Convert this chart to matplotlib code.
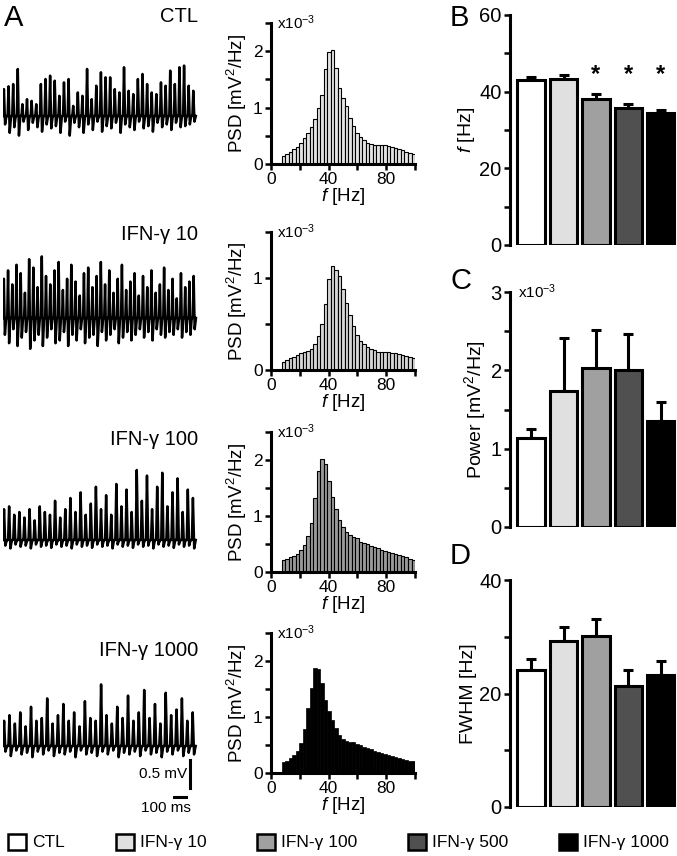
import numpy as np
import matplotlib
matplotlib.use("Agg")
import matplotlib.pyplot as plt
from matplotlib.patches import Patch

plt.rcParams["font.family"] = ["Liberation Sans", "DejaVu Sans"]
plt.rcParams["mathtext.fontset"] = "custom"
plt.rcParams["mathtext.rm"] = "Liberation Sans"
plt.rcParams["mathtext.it"] = "Liberation Sans:italic"

# ---- data -------------------------------------------------------------
GROUPS = ["CTL", "IFN-γ 10", "IFN-γ 100", "IFN-γ 500", "IFN-γ 1000"]
GROUP_COLORS = ["#ffffff", "#e0e0e0", "#a0a0a0", "#505050", "#000000"]

# field potential traces (mV): one peak and one trough per cycle
TRACE_NAMES = ["CTL", "IFN-γ 10", "IFN-γ 100", "IFN-γ 1000"]
CTL_PEAKS = [0.48, 0.53, 0.57, 0.84, 0.21, 0.30, 0.27, 0.21, 0.57, 0.66, 0.72, 0.63, 0.36, 0.60,
             0.66, 0.18, 0.42, 0.36, 0.84, 0.30, 0.54, 0.78, 0.69, 0.69, 0.48, 0.42, 0.87, 0.45,
             0.39, 0.66, 0.75, 0.57, 0.42, 0.39, 0.60, 0.54, 0.81, 0.57, 0.87, 0.90, 0.54, 0.45]
CTL_TROUGHS = [-0.15, -0.30, -0.20, -0.35, -0.10, -0.25, -0.12, -0.20, -0.28, -0.15, -0.22, -0.18,
               -0.30, -0.10, -0.35, -0.12, -0.20, -0.30, -0.15, -0.25, -0.10, -0.28, -0.18, -0.22,
               -0.12, -0.30, -0.15, -0.20, -0.25, -0.10, -0.22, -0.18, -0.28, -0.12, -0.20, -0.15,
               -0.25, -0.12, -0.20, -0.18, -0.15, -0.10]
IFN10_PEAKS = [0.70, 0.85, 0.60, 0.95, 0.80, 0.45, 1.05, 0.90, 0.55, 1.10, 0.75, 0.60, 0.85, 1.00,
               0.50, 0.70, 0.95, 0.65, 0.40, 0.80, 0.90, 0.55, 0.75, 1.00, 0.60, 0.85, 0.45, 0.70,
               0.95, 0.50, 0.65, 0.80, 0.40, 0.75, 0.55, 0.85, 0.45, 0.60, 0.90, 0.50, 0.70, 0.35,
               0.80, 0.55, 0.65, 0.75]
IFN10_TROUGHS = [-0.30, -0.45, -0.20, -0.50, -0.35, -0.25, -0.55, -0.40, -0.30, -0.50, -0.35, -0.20,
                 -0.45, -0.40, -0.25, -0.50, -0.30, -0.40, -0.20, -0.45, -0.35, -0.30, -0.50, -0.25,
                 -0.40, -0.30, -0.20, -0.45, -0.35, -0.25, -0.40, -0.30, -0.20, -0.35, -0.25, -0.40,
                 -0.20, -0.30, -0.35, -0.25, -0.30, -0.20, -0.35, -0.25, -0.30, -0.20]
IFN100_PEAKS = [0.55, 0.60, 0.45, 0.50, 0.40, 0.55, 0.35, 0.60, 0.50, 0.45, 0.70, 0.40, 0.55, 0.75,
                0.50, 0.85, 0.45, 0.65, 0.95, 0.55, 0.80, 0.45, 1.00, 0.60, 0.90, 0.50, 1.25, 0.70,
                1.15, 0.55, 0.95, 1.20, 0.60, 0.85, 1.10, 0.50, 0.90, 0.75]
IFN100_TROUGHS = [-0.10, -0.15, -0.08, -0.12, -0.10, -0.15, -0.08, -0.12, -0.10, -0.14, -0.08, -0.12,
                  -0.10, -0.15, -0.08, -0.12, -0.10, -0.14, -0.08, -0.12, -0.10, -0.15, -0.08, -0.12,
                  -0.10, -0.14, -0.08, -0.12, -0.10, -0.15, -0.08, -0.12, -0.10, -0.14, -0.08, -0.12,
                  -0.10, -0.15]
IFN1000_PEAKS = [0.45, 0.55, 0.40, 0.60, 0.35, 0.70, 0.45, 0.50, 0.85, 0.40, 0.55, 0.75, 0.45, 0.60,
                 0.35, 0.80, 0.50, 0.45, 1.10, 0.55, 0.40, 0.70, 0.50, 0.90, 0.45, 0.60, 1.00, 0.50,
                 0.75, 0.40, 0.95, 0.55, 0.65, 0.85, 0.45, 0.60]
IFN1000_TROUGHS = [-0.10, -0.18, -0.08, -0.15, -0.12, -0.20, -0.10, -0.15, -0.08, -0.18, -0.12, -0.15,
                   -0.10, -0.20, -0.08, -0.15, -0.12, -0.18, -0.10, -0.15, -0.08, -0.20, -0.12, -0.15,
                   -0.10, -0.18, -0.08, -0.15, -0.12, -0.20, -0.10, -0.15, -0.08, -0.18, -0.12, -0.15]

# power spectra (x10^-3 mV^2/Hz), bins of 2.44 Hz from 7.3 Hz
PSD_F0 = 7.3
PSD_BIN = 2.44
PSD_CTL = [0.15, 0.18, 0.21, 0.26, 0.30, 0.37, 0.46, 0.55, 0.65, 0.80, 0.99, 1.23, 1.68, 1.98,
           2.02, 1.71, 1.35, 1.17, 1.02, 0.82, 0.67, 0.55, 0.48, 0.42, 0.38, 0.36, 0.34, 0.33,
           0.33, 0.33, 0.32, 0.30, 0.28, 0.26, 0.24, 0.22, 0.20, 0.18]
PSD_IFN10 = [0.09, 0.11, 0.125, 0.14, 0.16, 0.19, 0.20, 0.21, 0.23, 0.28, 0.37, 0.50, 0.72, 0.99,
             1.13, 1.09, 1.02, 0.88, 0.73, 0.60, 0.48, 0.38, 0.32, 0.28, 0.25, 0.23, 0.22, 0.20,
             0.20, 0.20, 0.20, 0.19, 0.18, 0.17, 0.16, 0.15, 0.14, 0.13]
PSD_IFN100 = [0.21, 0.24, 0.26, 0.29, 0.33, 0.39, 0.48, 0.64, 0.87, 1.33, 1.80, 2.02, 1.93, 1.62,
              1.34, 1.12, 0.93, 0.80, 0.72, 0.66, 0.62, 0.60, 0.54, 0.52, 0.50, 0.47, 0.45, 0.42,
              0.40, 0.38, 0.36, 0.34, 0.32, 0.30, 0.28, 0.26, 0.24, 0.22]
PSD_IFN1000 = [0.19, 0.22, 0.27, 0.33, 0.39, 0.54, 0.79, 1.16, 1.52, 1.88, 1.85, 1.61, 1.31, 1.10,
               0.95, 0.80, 0.67, 0.61, 0.58, 0.56, 0.55, 0.52, 0.50, 0.47, 0.45, 0.42, 0.40, 0.38,
               0.36, 0.34, 0.32, 0.30, 0.28, 0.27, 0.25, 0.24, 0.22, 0.21]
PSD_YMAX = [2.5, 1.5, 2.5, 2.5]
PSD_COLORS = ["#e4e4e4", "#d6d6d6", "#9a9a9a", "#000000"]

# summary bars (mean, mean + SEM)
FREQ_MEAN = [43.1, 43.2, 38.0, 35.7, 34.5]
FREQ_TOP = [43.8, 44.4, 39.3, 36.8, 35.2]
POWER_MEAN = [1.13, 1.73, 2.03, 2.01, 1.35]
POWER_TOP = [1.25, 2.41, 2.52, 2.47, 1.60]
FWHM_MEAN = [24.1, 29.2, 30.2, 21.3, 23.2]
FWHM_TOP = [26.0, 31.8, 33.2, 24.1, 25.8]
SIGNIFICANT = [False, False, True, True, True]

# ---- layout helpers ---------------------------------------------------
W, H = 677, 856
fig = plt.figure(figsize=(W / 100, H / 100), dpi=100)


def px_axes(left, top, right, bottom):
    return fig.add_axes([left / W, 1 - bottom / H, (right - left) / W, (bottom - top) / H])


def style_axes(ax, bottom=True):
    for s in ["top", "right"]:
        ax.spines[s].set_visible(False)
    ax.spines["left"].set_linewidth(2.2)
    ax.spines["bottom"].set_linewidth(2.2)
    if not bottom:
        ax.spines["bottom"].set_visible(False)
    ax.tick_params(which="both", direction="out", width=1.8, length=4, pad=2)


# ---- A: traces --------------------------------------------------------
PX_PER_MV = 56
PX_PER_MS = 12 / 100
ax_tr = px_axes(3, 20, 200, 820)
ax_tr.set_xlim(0, 197 / PX_PER_MS)
ax_tr.set_ylim(0, 800 / PX_PER_MV)
ax_tr.axis("off")

traces = [(CTL_PEAKS, CTL_TROUGHS), (IFN10_PEAKS, IFN10_TROUGHS),
          (IFN100_PEAKS, IFN100_TROUGHS), (IFN1000_PEAKS, IFN1000_TROUGHS)]
baselines_px = [116, 318, 540, 746]
label_px = [17, 235, 440, 650]
span_ms = 194 / PX_PER_MS
# within one cycle: baseline, spike up, swing down, back to baseline
shape = np.array([0.0, 0.2, 0.45, 0.75])
for (pk, tr), bpx, lpx, name in zip(traces, baselines_px, label_px, TRACE_NAMES):
    n = min(len(pk), len(tr))
    period = span_ms / n
    t = (np.arange(n)[:, None] + shape[None, :]).ravel() * period
    v = np.column_stack([np.zeros(n), pk[:n], tr[:n], np.zeros(n)]).ravel()
    base = (820 - bpx) / PX_PER_MV
    ax_tr.plot(t, v + base, color="black", lw=1.8, solid_joinstyle="round")
    fig.text(198 / W, 1 - lpx / H, name, ha="right", va="center", fontsize=14.5)

# scale bars
xb = 187 / PX_PER_MS
y0 = (820 - 788) / PX_PER_MV
ax_tr.plot([xb, xb], [y0, y0 + 0.5], color="black", lw=2.2, clip_on=False)
ax_tr.text(xb - 25, y0 + 0.25, "0.5 mV", ha="right", va="center", fontsize=11)
yh = (820 - 797) / PX_PER_MV
ax_tr.plot([xb - 100 - 30, xb - 30], [yh, yh], color="black", lw=2.2, clip_on=False)
ax_tr.text(xb + 5, yh - 0.2, "100 ms", ha="right", va="center", fontsize=11)

# ---- A: power spectra ---------------------------------------------------
psd_rows = [(23, 164), (232, 370), (432, 572), (633, 773)]
psd_data = [PSD_CTL, PSD_IFN10, PSD_IFN100, PSD_IFN1000]
for (top, bot), vals, ymax, col in zip(psd_rows, psd_data, PSD_YMAX, PSD_COLORS):
    ax = px_axes(271, top, 415, bot)
    lefts = PSD_F0 + np.arange(len(vals)) * PSD_BIN
    if col == "#000000":
        ax.bar(lefts, vals, width=PSD_BIN, align="edge", color="black", edgecolor="black", lw=0.5)
    else:
        ax.bar(lefts, vals, width=PSD_BIN, align="edge", color=col, edgecolor="black", lw=0.8)
    ax.set_xlim(0, 100)
    ax.set_ylim(0, ymax)
    style_axes(ax)
    ax.set_xticks([0, 40, 80])
    ax.set_xticks([20, 60, 100], minor=True)
    major = np.arange(0, ymax + 0.01, 1)
    ax.set_yticks(major)
    ax.set_yticklabels([f"{int(m)}" for m in major])
    ax.set_yticks(np.arange(0.5, ymax + 0.01, 1), minor=True)
    ax.tick_params(labelsize=12.5)
    ax.set_xlabel("$f$ [Hz]", fontsize=13.5, labelpad=-1)
    ax.set_ylabel("PSD [mV$^2$/Hz]", fontsize=13.5, labelpad=3)
    ax.text(0.04, 1.0, "x10$^{-3}$", transform=ax.transAxes, ha="left", va="center", fontsize=11)

# ---- B, C, D: summary bars -----------------------------------------------
x = np.arange(len(GROUPS))


def bar_panel(box, means, tops, ymax, step, ylabel):
    ax = px_axes(*box)
    ax.bar(x, means, width=0.84, color=GROUP_COLORS, edgecolor="black", lw=2.2, zorder=3)
    err = np.array(tops) - np.array(means)
    ax.errorbar(x, means, yerr=[np.zeros_like(err), err], fmt="none", ecolor="black",
                elinewidth=2.2, capsize=3.5, capthick=2.2, zorder=2)
    ax.set_xlim(-0.65, 4.5)
    ax.set_ylim(0, ymax)
    style_axes(ax, bottom=False)
    ax.set_xticks([])
    ax.set_yticks(np.arange(0, ymax + 0.001, 2 * step))
    ax.set_yticks(np.arange(step, ymax, 2 * step), minor=True)
    ax.tick_params(labelsize=14.5)
    ax.set_ylabel(ylabel, fontsize=14, labelpad=2)
    return ax


axB = bar_panel((510, 15, 677, 245), FREQ_MEAN, FREQ_TOP, 60, 10, "$f$ [Hz]")
for i, sig in enumerate(SIGNIFICANT):
    if sig:
        axB.text(i, 44.6, "*", ha="center", va="center", fontsize=17, fontweight="bold")

axC = bar_panel((510, 292, 677, 527), POWER_MEAN, POWER_TOP, 3, 0.5, "Power [mV$^2$/Hz]")
axC.set_yticklabels(["0", "1", "2", "3"])
axC.text(0.05, 1.0, "x10$^{-3}$", transform=axC.transAxes, ha="left", va="center", fontsize=11)

axD = bar_panel((510, 580, 677, 807), FWHM_MEAN, FWHM_TOP, 40, 10, "FWHM [Hz]")

# panel letters
for lab, (px, py) in zip("ABCD", [(4, 18), (450, 18), (450, 281), (450, 556)]):
    fig.text(px / W, 1 - py / H, lab, fontsize=21, ha="left", va="center")

# ---- legend -------------------------------------------------------------
handles = [Patch(facecolor=c, edgecolor="black", linewidth=1.8, label=g)
           for c, g in zip(GROUP_COLORS, GROUPS)]
fig.legend(handles=handles, loc="center", bbox_to_anchor=(0.5, 1 - 842 / H), ncol=5,
           frameon=False, fontsize=12.5, handlelength=1.05, handleheight=1.05,
           handletextpad=0.35, columnspacing=2.9, borderpad=0)

fig.savefig("out.png", dpi=100)
